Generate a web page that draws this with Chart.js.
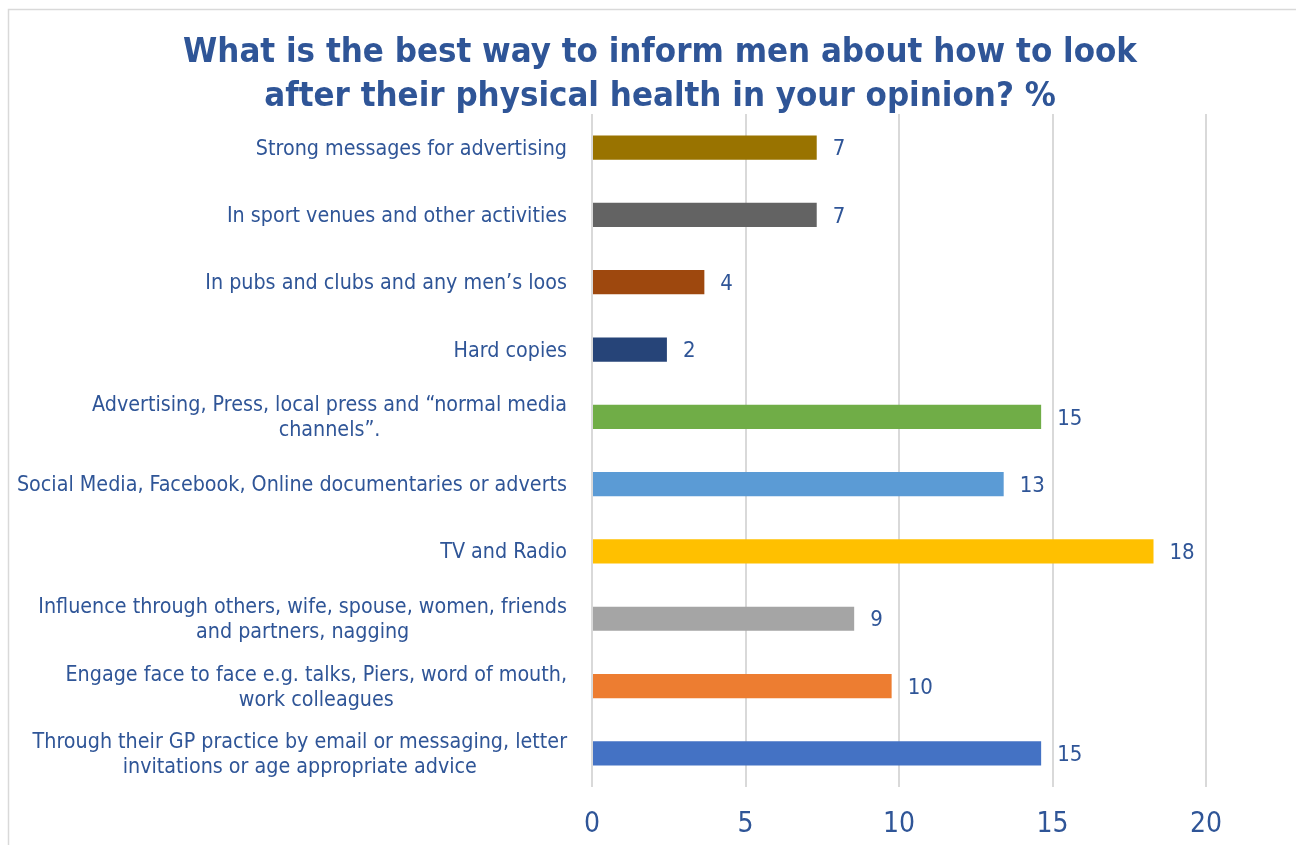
<!DOCTYPE html>
<html>
<head>
<meta charset="utf-8">
<script src="https://cdn.jsdelivr.net/npm/chart.js@4.4.1/dist/chart.umd.min.js"></script>
<style>
  html, body { margin: 0; background: #fff; }
  #wrap { position: relative; width: 1296px; height: 845px; overflow: hidden; }
</style>
</head>
<body>
<div id="wrap">
  <canvas id="myChart" width="1296" height="845"></canvas>
</div>
<script>
var titleLines = ['What is the best way to inform men about how to look', 'after their physical health in your opinion? %'];
var categories = [
    ['Strong messages for advertising'],
    ['In sport venues and other activities'],
    ['In pubs and clubs and any men\u2019s loos'],
    ['Hard copies'],
    ['Advertising, Press, local press and \u201cnormal media', 'channels\u201d.'],
    ['Social Media, Facebook, Online documentaries or adverts'],
    ['TV and Radio'],
    ['Influence through others, wife, spouse, women, friends', 'and partners, nagging'],
    ['Engage face to face e.g. talks, Piers, word of mouth,', 'work colleagues'],
    ['Through their GP practice by email or messaging, letter', 'invitations or age appropriate advice']
];
var values = [7.32, 7.32, 3.66, 2.44, 14.63, 13.41, 18.29, 8.54, 9.76, 14.63];
var barColors = ['#997300', '#636363', '#9E480E', '#264478', '#70AD47', '#5B9BD5', '#FFC000', '#A5A5A5', '#ED7D31', '#4472C4'];
var xTicks = [0, 5, 10, 15, 20];

var FONT = "'DejaVu Sans Condensed', 'DejaVu Sans', sans-serif";
var TEXT_COLOR = '#2F5597';

var labelPlugin = {
    id: 'labelPlugin',
    beforeDraw: function (chart) {
        // light frame round the chart
        var ctx = chart.ctx;
        ctx.save();
        ctx.strokeStyle = '#d9d9d9';
        ctx.lineWidth = 1.5;
        ctx.strokeRect(8.5, 9.5, 1400, 1000);
        ctx.restore();
    },
    afterDatasetsDraw: function (chart) {
        var ctx = chart.ctx;
        var yScale = chart.scales.y;
        var meta = chart.getDatasetMeta(0);
        ctx.save();
        ctx.fillStyle = TEXT_COLOR;
        ctx.textBaseline = 'middle';
        // value labels
        ctx.font = '22px ' + FONT;
        ctx.textAlign = 'left';
        meta.data.forEach(function (bar, i) {
            ctx.fillText(String(Math.round(values[i])), bar.x + 16, bar.y + 2);
        });
        // category labels, lines centred on each other, block right-aligned
        ctx.font = '21.3px ' + FONT;
        ctx.textAlign = 'center';
        var right = chart.chartArea.left - 25;
        var lh = 25;
        categories.forEach(function (lines, i) {
            var y = yScale.getPixelForValue(i) + 1.5;
            var w = Math.max.apply(null, lines.map(function (l) { return ctx.measureText(l).width; }));
            var cx = right - w / 2;
            var y0 = y - (lines.length - 1) * lh / 2;
            lines.forEach(function (l, j) {
                ctx.fillText(l, cx, y0 + j * lh);
            });
        });
        ctx.restore();
    }
};

var ctx = document.getElementById('myChart').getContext('2d');
var myChart = new Chart(ctx, {
    type: 'bar',
    data: {
        labels: categories.map(function (c) { return c.join(' '); }),
        datasets: [{
            data: values,
            backgroundColor: barColors,
            barPercentage: 0.36,
            categoryPercentage: 1
        }]
    },
    options: {
        indexAxis: 'y',
        responsive: false,
        animation: false,
        layout: { padding: { left: 114, right: 90, top: 0, bottom: 2 } },
        scales: {
            x: {
                min: xTicks[0],
                max: xTicks[xTicks.length - 1],
                afterBuildTicks: function (scale) {
                    scale.ticks = xTicks.map(function (v) { return { value: v }; });
                },
                ticks: { color: TEXT_COLOR, font: { family: FONT, size: 28 }, padding: 21 },
                grid: { color: '#d9d9d9', lineWidth: 2, drawTicks: false },
                border: { display: false },
                afterFit: function (scale) { scale.height = 56; }
            },
            y: {
                ticks: { display: false },
                grid: { display: false },
                border: { display: false },
                afterFit: function (scale) { scale.width = 478; }
            }
        },
        plugins: {
            legend: { display: false },
            tooltip: { enabled: false },
            title: {
                display: true,
                text: titleLines,
                color: TEXT_COLOR,
                font: { family: FONT, size: 34.5, weight: 'bold', lineHeight: 1.275 },
                padding: { top: 31, bottom: -5 }
            }
        }
    },
    plugins: [labelPlugin]
});
</script>
</body>
</html>
